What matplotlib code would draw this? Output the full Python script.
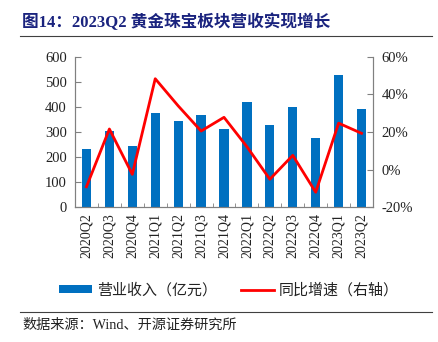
import matplotlib
matplotlib.use("Agg")
import matplotlib.pyplot as plt
from matplotlib.lines import Line2D
from matplotlib.ticker import FuncFormatter, FixedLocator

quarters = ["2020Q2", "2020Q3", "2020Q4", "2021Q1", "2021Q2", "2021Q3", "2021Q4",
            "2022Q1", "2022Q2", "2022Q3", "2022Q4", "2023Q1", "2023Q2"]
revenue = [231, 305, 244, 375, 344, 369, 313, 419, 326, 398, 277, 527, 390]
yoy = [-9.1, 21.6, -2.5, 48.3, 33.9, 20.5, 27.8, 12.2, -5.1, 7.6, -12.0, 24.7, 19.3]

title = "图14：2023Q2 黄金珠宝板块营收实现增长"
bar_label = "营业收入（亿元）"
line_label = "同比增速（右轴）"
source = "数据来源：Wind、开源证券研究所"

FAM = ["Liberation Serif", "Noto Sans CJK SC", "DejaVu Sans"]
plt.rcParams["font.family"] = FAM

W, H = 439, 342
fig = plt.figure(figsize=(W / 100, H / 100), dpi=100)
ax = fig.add_axes([75 / W, 1 - 207.3 / H, (373 - 75) / W, (207.3 - 56.7) / H])
ax2 = ax.twinx()

x = list(range(len(quarters)))
bars = ax.bar(x, revenue, width=0.4, color="#0070C0", zorder=2, label=bar_label)
line, = ax2.plot(x, yoy, color="#FF0000", lw=2.0, zorder=3, label=line_label)

ax.set_xlim(-0.5, len(quarters) - 0.5)
ax.set_ylim(0, 600)
ax.set_yticks(range(0, 601, 100))
ax2.set_ylim(-20, 60)
ax2.set_yticks(range(-20, 61, 20))
ax2.yaxis.set_major_formatter(FuncFormatter(lambda v, p: f"{int(v)}%"))

ax.set_xticks(x)
ax.set_xticklabels(quarters, rotation=90, fontsize=10, color="#222222")
ax.tick_params(axis="x", which="major", length=0, pad=4)
ax.xaxis.set_minor_locator(FixedLocator([i + 0.5 for i in range(-1, len(quarters))]))
ax.tick_params(axis="x", which="minor", length=3, direction="in", color="#808080")
ax.tick_params(axis="y", length=4, direction="in", color="#808080", labelsize=10.5,
               labelcolor="#222222", pad=6)
ax2.tick_params(axis="y", length=4, direction="in", color="#808080", labelsize=10.5,
                labelcolor="#222222", pad=6)

for a in (ax, ax2):
    a.spines["top"].set_visible(False)
    for s in ("left", "right", "bottom"):
        a.spines[s].set_color("#808080")
        a.spines[s].set_linewidth(0.8)

# title and rules
fig.text(22 / W, 1 - 22 / H, title, fontsize=12, fontweight="bold", color="#1A237E",
         va="center", ha="left")
fig.add_artist(Line2D([20 / W, 432 / W], [1 - 36 / H, 1 - 36 / H], color="#404040", lw=0.8))
fig.add_artist(Line2D([20 / W, 432 / W], [1 - 312 / H, 1 - 312 / H], color="#404040", lw=0.8))
fig.text(22 / W, 1 - 325 / H, source, fontsize=10.2, color="#222222", va="center", ha="left")

leg = fig.legend([bars, line], [bar_label, line_label], loc="center",
                 bbox_to_anchor=(229 / W, 1 - 290 / H), ncol=2, frameon=False,
                 fontsize=10.8, handlelength=2.2, handleheight=0.5, columnspacing=1.6,
                 handletextpad=0.3)
for t in leg.get_texts():
    t.set_color("#222222")

fig.savefig("out.png", dpi=100)
